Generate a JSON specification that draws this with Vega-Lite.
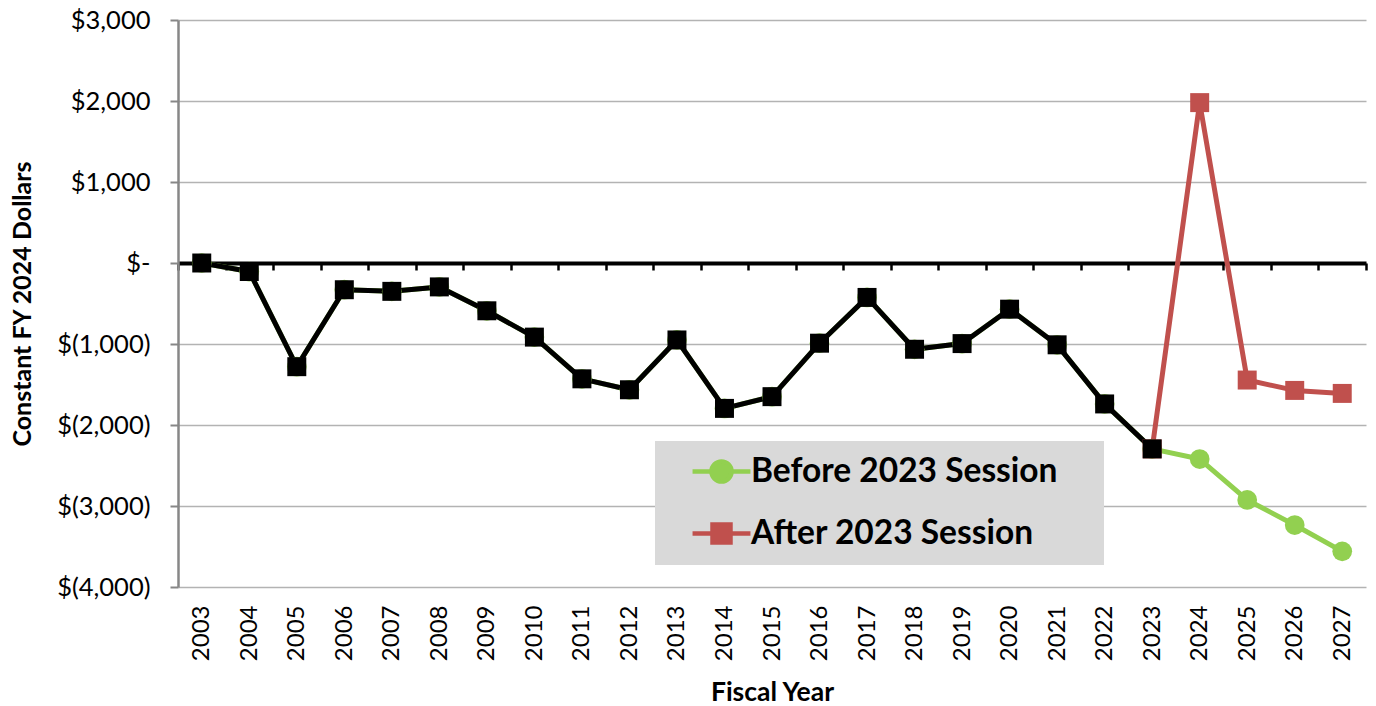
{
  "$schema": "https://vega.github.io/schema/vega-lite/v6.json",
  "width": 1188,
  "height": 567,
  "autosize": {"type": "none"},
  "padding": {"left": 178, "top": 20, "right": 10, "bottom": 119},
  "background": "white",
  "config": {"view": {"stroke": null}, "font": "Lato"},
  "data": {
    "values": [
      {"year": "2003", "series": "Before 2023 Session", "value": 0},
      {"year": "2004", "series": "Before 2023 Session", "value": -105},
      {"year": "2005", "series": "Before 2023 Session", "value": -1280},
      {"year": "2006", "series": "Before 2023 Session", "value": -330},
      {"year": "2007", "series": "Before 2023 Session", "value": -350},
      {"year": "2008", "series": "Before 2023 Session", "value": -295},
      {"year": "2009", "series": "Before 2023 Session", "value": -590},
      {"year": "2010", "series": "Before 2023 Session", "value": -915},
      {"year": "2011", "series": "Before 2023 Session", "value": -1430},
      {"year": "2012", "series": "Before 2023 Session", "value": -1565},
      {"year": "2013", "series": "Before 2023 Session", "value": -950},
      {"year": "2014", "series": "Before 2023 Session", "value": -1795},
      {"year": "2015", "series": "Before 2023 Session", "value": -1650},
      {"year": "2016", "series": "Before 2023 Session", "value": -990},
      {"year": "2017", "series": "Before 2023 Session", "value": -425},
      {"year": "2018", "series": "Before 2023 Session", "value": -1065},
      {"year": "2019", "series": "Before 2023 Session", "value": -995},
      {"year": "2020", "series": "Before 2023 Session", "value": -570},
      {"year": "2021", "series": "Before 2023 Session", "value": -1010},
      {"year": "2022", "series": "Before 2023 Session", "value": -1740},
      {"year": "2023", "series": "Before 2023 Session", "value": -2295},
      {"year": "2024", "series": "Before 2023 Session", "value": -2420},
      {"year": "2025", "series": "Before 2023 Session", "value": -2925},
      {"year": "2026", "series": "Before 2023 Session", "value": -3235},
      {"year": "2027", "series": "Before 2023 Session", "value": -3560},
      {"year": "2023", "series": "After 2023 Session", "value": -2295},
      {"year": "2024", "series": "After 2023 Session", "value": 1980},
      {"year": "2025", "series": "After 2023 Session", "value": -1445},
      {"year": "2026", "series": "After 2023 Session", "value": -1573},
      {"year": "2027", "series": "After 2023 Session", "value": -1610},
      {"year": "2003", "series": "Actual", "value": 0},
      {"year": "2004", "series": "Actual", "value": -105},
      {"year": "2005", "series": "Actual", "value": -1280},
      {"year": "2006", "series": "Actual", "value": -330},
      {"year": "2007", "series": "Actual", "value": -350},
      {"year": "2008", "series": "Actual", "value": -295},
      {"year": "2009", "series": "Actual", "value": -590},
      {"year": "2010", "series": "Actual", "value": -915},
      {"year": "2011", "series": "Actual", "value": -1430},
      {"year": "2012", "series": "Actual", "value": -1565},
      {"year": "2013", "series": "Actual", "value": -950},
      {"year": "2014", "series": "Actual", "value": -1795},
      {"year": "2015", "series": "Actual", "value": -1650},
      {"year": "2016", "series": "Actual", "value": -990},
      {"year": "2017", "series": "Actual", "value": -425},
      {"year": "2018", "series": "Actual", "value": -1065},
      {"year": "2019", "series": "Actual", "value": -995},
      {"year": "2020", "series": "Actual", "value": -570},
      {"year": "2021", "series": "Actual", "value": -1010},
      {"year": "2022", "series": "Actual", "value": -1740},
      {"year": "2023", "series": "Actual", "value": -2295}
    ]
  },
  "encoding": {
    "x": {
      "field": "year",
      "type": "ordinal",
      "scale": {"type": "band", "paddingInner": 0, "paddingOuter": 0},
      "axis": {
        "title": "Fiscal Year",
        "titleFont": "Lato",
        "titleFontSize": 26.5,
        "titleFontWeight": "bold",
        "titleColor": "black",
        "titleBaseline": "alphabetic",
        "titleY": 437,
        "offset": -324,
        "domain": true,
        "domainColor": "black",
        "domainWidth": 4,
        "ticks": true,
        "tickBand": "extent",
        "tickColor": "black",
        "tickWidth": 2.5,
        "tickSize": 7,
        "labelAngle": -90,
        "labelFont": "Lato",
        "labelFontSize": 24,
        "labelColor": "black",
        "labelPadding": 335,
        "grid": false
      }
    },
    "y": {
      "field": "value",
      "type": "quantitative",
      "scale": {"domain": [-4000, 3000], "nice": false, "zero": false},
      "axis": {
        "title": "Constant FY 2024 Dollars",
        "titleFont": "Lato",
        "titleFontSize": 25,
        "titleFontWeight": "bold",
        "titleColor": "black",
        "titlePadding": 21,
        "values": [-4000, -3000, -2000, -1000, 0, 1000, 2000, 3000],
        "labelExpr": "datum.value === 0 ? '$-' : (datum.value < 0 ? '$(' + format(-datum.value, ',') + ')' : '$' + format(datum.value, ','))",
        "labelFont": "Lato",
        "labelFontSize": 25.5,
        "labelColor": "black",
        "labelPadding": 20,
        "encode": {
          "labels": {
            "update": {
              "dx": {"signal": "datum.value === 0 ? -20 : (datum.value > 0 ? -7 : 0)"}
            }
          }
        },
        "domain": true,
        "domainColor": "#878787",
        "domainWidth": 2.5,
        "ticks": true,
        "tickColor": "#878787",
        "tickWidth": 2,
        "tickSize": 8,
        "grid": true,
        "gridColor": "#b3b3b3",
        "gridWidth": 1.5
      }
    },
    "color": {
      "field": "series",
      "type": "nominal",
      "scale": {
        "domain": ["Before 2023 Session", "After 2023 Session", "Actual"],
        "range": ["#92d050", "#c0504d", "#000000"]
      },
      "legend": {
        "values": ["Before 2023 Session", "After 2023 Session"],
        "title": null,
        "orient": "none",
        "legendX": 477,
        "legendY": 421,
        "fillColor": "#d9d9d9",
        "padding": 13,
        "labelFont": "Lato",
        "labelFontSize": 33.5,
        "labelFontWeight": "bold",
        "labelColor": "black",
        "labelLimit": 0,
        "labelOffset": 48,
        "labelExpr": "datum.label + '\u2002\u2002\u2060'",
        "rowPadding": 24,
        "symbolSize": 900,
        "encode": {
          "symbols": {
            "update": {
              "shape": {"signal": "datum.value === 'Before 2023 Session' ? 'M0.47,0H4.33M1.73,0A0.67,0.67,0,1,0,3.07,0A0.67,0.67,0,1,0,1.73,0Z' : 'M0.47,0H4.33M1.8,-0.6H3V0.6H1.8Z'"},
              "size": {"value": 900},
              "fill": {"scale": "color", "field": "value"},
              "stroke": {"scale": "color", "field": "value"},
              "strokeWidth": {"value": 4.5},
              "opacity": {"value": 1},
              "fillOpacity": {"value": 1},
              "strokeOpacity": {"value": 1}
            }
          }
        }
      }
    }
  },
  "layer": [
    {
      "mark": {"type": "line", "strokeWidth": 5, "strokeJoin": "round"},
      "encoding": {"detail": {"field": "series", "type": "nominal"}}
    },
    {
      "transform": [{"filter": "datum.series === 'Before 2023 Session'"}],
      "mark": {"type": "point", "shape": "circle", "filled": true, "opacity": 1, "size": 390}
    },
    {
      "transform": [{"filter": "datum.series !== 'Before 2023 Session'"}],
      "mark": {"type": "point", "shape": "square", "filled": true, "opacity": 1, "size": 360}
    }
  ]
}
